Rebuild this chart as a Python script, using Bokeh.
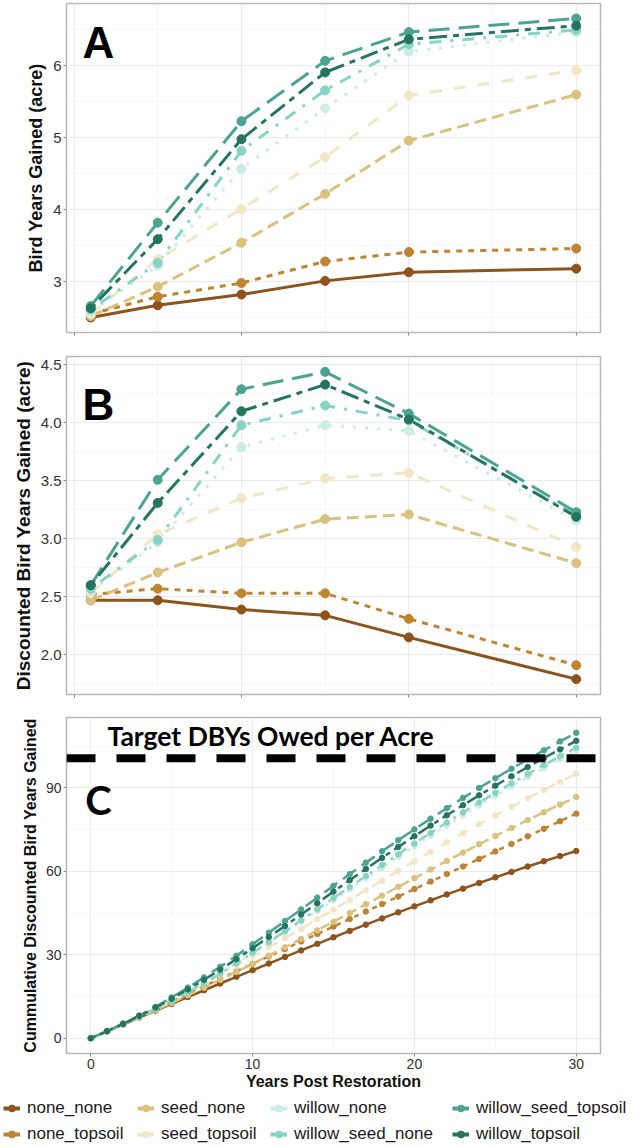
import math
from bokeh.plotting import figure
from bokeh.models import Range1d, FixedTicker, Label, Span, Legend, LegendItem
from bokeh.layouts import column
from bokeh.embed import file_html
from bokeh.resources import INLINE

# ---------------- data ----------------
series = ["none_none", "none_topsoil", "seed_none", "seed_topsoil",
          "willow_none", "willow_seed_none", "willow_seed_topsoil", "willow_topsoil"]
colors = ["#8E531A", "#C0832F", "#DCC17E", "#F3E6C4",
          "#CBEDE6", "#86D4C4", "#4BA393", "#247560"]

years_ab = [1, 5, 10, 15, 20, 30]
years_c = list(range(31))

# Panel A: Bird Years Gained (acre)
a_none_none = [2.50, 2.67, 2.82, 3.01, 3.13, 3.18]
a_none_topsoil = [2.55, 2.79, 2.98, 3.28, 3.41, 3.46]
a_seed_none = [2.52, 2.93, 3.54, 4.22, 4.96, 5.60]
a_seed_topsoil = [2.55, 3.31, 4.01, 4.73, 5.59, 5.94]
a_willow_none = [2.58, 3.22, 4.57, 5.41, 6.20, 6.47]
a_willow_seed_none = [2.61, 3.26, 4.82, 5.66, 6.30, 6.50]
a_willow_seed_topsoil = [2.66, 3.82, 5.23, 6.07, 6.47, 6.66]
a_willow_topsoil = [2.63, 3.59, 4.98, 5.91, 6.37, 6.56]

# Panel B: Discounted Bird Years Gained (acre)
b_none_none = [2.47, 2.47, 2.39, 2.34, 2.15, 1.79]
b_none_topsoil = [2.52, 2.57, 2.53, 2.53, 2.31, 1.91]
b_seed_none = [2.47, 2.71, 2.97, 3.17, 3.21, 2.79]
b_seed_topsoil = [2.53, 3.04, 3.35, 3.52, 3.57, 2.93]
b_willow_none = [2.55, 2.97, 3.79, 3.98, 3.93, 3.16]
b_willow_seed_none = [2.57, 2.99, 3.98, 4.15, 4.02, 3.20]
b_willow_seed_topsoil = [2.60, 3.51, 4.29, 4.44, 4.08, 3.23]
b_willow_topsoil = [2.60, 3.31, 4.10, 4.33, 4.03, 3.19]

# Panel C: Cumulative Discounted Bird Years Gained (years 0..30)
c_none_none = [0, 2.47, 4.94, 7.41, 9.88, 12.35, 14.80, 17.24, 19.66, 22.07, 24.46,
               26.84, 29.21, 31.57, 33.92, 36.26, 38.56, 40.82, 43.05, 45.24, 47.39,
               49.55, 51.67, 53.75, 55.80, 57.81, 59.78, 61.71, 63.60, 65.45, 67.27]
c_none_topsoil = [0, 2.62, 5.27, 7.94, 10.62, 13.31, 16.00, 18.69, 21.37, 24.05, 26.72,
                  29.40, 32.08, 34.77, 37.45, 40.14, 42.83, 45.52, 48.21, 50.90, 53.60,
                  56.30, 59.00, 61.71, 64.42, 67.13, 69.84, 72.55, 75.26, 77.98, 80.70]
c_seed_none = [0, 2.42, 4.90, 7.44, 10.04, 12.69, 15.40, 18.15, 20.96, 23.82, 26.73,
               29.68, 32.67, 35.70, 38.77, 41.88, 44.99, 48.12, 51.24, 54.38, 57.53,
               60.63, 63.70, 66.72, 69.70, 72.64, 75.54, 78.40, 81.21, 83.99, 86.72]
c_seed_topsoil = [0, 2.47, 5.07, 7.80, 10.64, 13.61, 16.64, 19.73, 22.88, 26.09, 29.37,
                  32.67, 36.01, 39.38, 42.79, 46.23, 49.68, 53.14, 56.61, 60.09, 63.57,
                  67.00, 70.36, 73.67, 76.90, 80.07, 83.19, 86.24, 89.23, 92.15, 95.01]
c_willow_none = [0, 2.50, 5.11, 7.81, 10.62, 13.53, 16.60, 19.84, 23.23, 26.78, 30.50,
                 34.25, 38.04, 41.87, 45.73, 49.63, 53.52, 57.40, 61.27, 65.13, 68.98,
                 72.76, 76.46, 80.09, 83.63, 87.11, 90.51, 93.84, 97.08, 100.25, 103.35]
c_willow_seed_none = [0, 2.48, 5.06, 7.74, 10.53, 13.41, 16.48, 19.75, 23.20, 26.85, 30.68,
                      34.55, 38.45, 42.39, 46.36, 50.36, 54.33, 58.28, 62.21, 66.11, 69.99,
                      73.78, 77.51, 81.14, 84.70, 88.18, 91.58, 94.91, 98.15, 101.31, 104.39]
c_willow_seed_topsoil = [0, 2.50, 5.21, 8.15, 11.30, 14.67, 18.19, 21.86, 25.68, 29.64, 33.76,
                         37.91, 42.09, 46.29, 50.52, 54.79, 58.98, 63.11, 67.16, 71.15, 75.06,
                         78.90, 82.66, 86.33, 89.92, 93.44, 96.86, 100.21, 103.48, 106.67, 109.77]
c_willow_topsoil = [0, 2.50, 5.16, 8.01, 11.01, 14.19, 17.52, 21.00, 24.63, 28.42, 32.35,
                    36.34, 40.36, 44.43, 48.54, 52.69, 56.79, 60.84, 64.82, 68.75, 72.61,
                    76.41, 80.11, 83.74, 87.28, 90.75, 94.14, 97.44, 100.67, 103.80, 106.87]

target_dby = 100.6
target_text = "Target DBYs Owed per Acre"

a_vals = [a_none_none, a_none_topsoil, a_seed_none, a_seed_topsoil,
          a_willow_none, a_willow_seed_none, a_willow_seed_topsoil, a_willow_topsoil]
b_vals = [b_none_none, b_none_topsoil, b_seed_none, b_seed_topsoil,
          b_willow_none, b_willow_seed_none, b_willow_seed_topsoil, b_willow_topsoil]
c_vals = [c_none_none, c_none_topsoil, c_seed_none, c_seed_topsoil,
          c_willow_none, c_willow_seed_none, c_willow_seed_topsoil, c_willow_topsoil]

# ---------------- styles ----------------
dash_ab = ["solid", "6 6", "12 6", "12 12", "3 9", "3 9 12 9", "21 9", "6 6 18 6"]
dash_c = ["solid", "5 5", "10 5", "10 10", "3 6", "3 6 10 6", "16 7", "5 5 14 5"]
FONT = "Liberation Sans"


def expand(lo, hi, f=0.05):
    d = (hi - lo) * f
    return Range1d(lo - d, hi + d)


def make_fig(height, xr, yr, top, bottom, yticks, yminor, xticks, xminor,
             ytitle, title_size, tick_size, show_xlabels=False):
    p = figure(width=633, height=height, x_range=xr, y_range=yr,
               output_backend="svg", toolbar_location=None,
               min_border_left=66, min_border_right=33,
               min_border_top=top, min_border_bottom=bottom)
    p.background_fill_color = "white"
    p.border_fill_color = "white"
    p.outline_line_color = "#b8b8b8"
    p.outline_line_width = 1.5
    p.xaxis.ticker = FixedTicker(ticks=xticks, minor_ticks=xminor)
    p.yaxis.ticker = FixedTicker(ticks=yticks, minor_ticks=yminor)
    for g in (p.xgrid, p.ygrid):
        g.grid_line_color = "#ebebeb"
        g.grid_line_width = 1.1
        g.minor_grid_line_color = "#f3f3f3"
        g.minor_grid_line_width = 0.7
    for ax in (p.xaxis, p.yaxis):
        ax.axis_line_color = None
        ax.major_tick_line_color = "#8a8a8a"
        ax.major_tick_out = 3
        ax.major_tick_in = 0
        ax.minor_tick_out = 0
        ax.minor_tick_in = 0
        ax.major_label_text_font = FONT
        ax.major_label_text_font_size = tick_size
        ax.major_label_text_color = "#333333"
        ax.major_label_standoff = 2
        ax.axis_label_text_font = FONT
        ax.axis_label_text_font_style = "bold"
        ax.axis_label_text_color = "#111111"
        ax.axis_label_standoff = 4
    p.yaxis.axis_label = ytitle
    p.yaxis.axis_label_text_font_size = title_size
    if not show_xlabels:
        p.xaxis.major_label_overrides = {t: "" for t in xticks}
        p.xaxis.major_label_text_font_size = "1px"
        p.xaxis.major_label_standoff = 0
    return p


# ---------------- panel A ----------------
pa = make_fig(345, expand(1, 30), expand(2.50, 6.66), 3, 13,
              [3, 4, 5, 6], [2.5, 3.5, 4.5, 5.5, 6.5], [0, 10, 20, 30], [5, 15, 25],
              "Bird Years Gained (acre)", "18px", "15px")
for i, name in enumerate(series):
    pa.line(years_ab, a_vals[i], line_color=colors[i], line_width=3,
            line_dash=dash_ab[i])
for i, name in enumerate(series):
    pa.scatter(years_ab, a_vals[i], size=9, fill_color=colors[i], line_color=colors[i])
pa.add_layout(Label(x=1.46, y=6.33, text="A", text_font=FONT, text_font_style="bold",
                    text_font_size="44px", text_align="center", text_baseline="middle",
                    text_color="black"))

# ---------------- panel B ----------------
pb = make_fig(361, expand(1, 30), expand(1.79, 4.44), 11, 12,
              [2.0, 2.5, 3.0, 3.5, 4.0, 4.5], [1.75, 2.25, 2.75, 3.25, 3.75, 4.25],
              [0, 10, 20, 30], [5, 15, 25],
              "Discounted Bird Years Gained (acre)", "19px", "15px")
pb.yaxis.major_label_overrides = {2.0: "2.0", 2.5: "2.5", 3.0: "3.0", 3.5: "3.5",
                                  4.0: "4.0", 4.5: "4.5"}
for i, name in enumerate(series):
    pb.line(years_ab, b_vals[i], line_color=colors[i], line_width=3,
            line_dash=dash_ab[i])
for i, name in enumerate(series):
    pb.scatter(years_ab, b_vals[i], size=9, fill_color=colors[i], line_color=colors[i])
pb.add_layout(Label(x=1.46, y=4.16, text="B", text_font=FONT, text_font_style="bold",
                    text_font_size="44px", text_align="center", text_baseline="middle",
                    text_color="black"))

# ---------------- panel C ----------------
pc = make_fig(386, expand(0, 30), expand(0, 109.77), 11, 34,
              [0, 30, 60, 90], [15, 45, 75, 105], [0, 10, 20, 30], [5, 15, 25],
              "Cummulative Discounted Bird Years Gained", "16px", "14px",
              show_xlabels=True)
pc.xaxis.axis_label = "Years Post Restoration"
pc.xaxis.axis_label_text_font_size = "16px"
pc.xaxis.axis_label_standoff = 1
for i, name in enumerate(series):
    pc.line(years_c, c_vals[i], line_color=colors[i], line_width=2.5,
            line_dash=dash_c[i])
for i, name in enumerate(series):
    pc.scatter(years_c, c_vals[i], size=5.5, fill_color=colors[i], line_color=colors[i])
pc.add_layout(Span(location=target_dby, dimension="width", line_color="black",
                   line_width=8, line_dash="29 21"))
pc.add_layout(Label(x=1.03, y=108.6, text=target_text, text_font="Lato",
                    text_font_style="bold", text_font_size="26.5px", text_align="left",
                    text_baseline="middle", text_color="black"))
pc.add_layout(Label(x=0.48, y=85.7, text="C", text_font="Lato", text_font_style="bold",
                    text_font_size="40px", text_align="center", text_baseline="middle",
                    text_color="black"))

# ---------------- legend (4 columns x 2 rows) ----------------
pl = figure(width=633, height=55, x_range=Range1d(0, 1), y_range=Range1d(0, 1),
            output_backend="svg", toolbar_location=None,
            x_axis_location=None, y_axis_location=None,
            min_border_left=0, min_border_right=0,
            min_border_top=0, min_border_bottom=0)
pl.frame_align = False
pl.outline_line_color = None
pl.xgrid.visible = False
pl.ygrid.visible = False
nan = float("nan")
renderers = []
for i, name in enumerate(series):
    lr = pl.line([nan, nan], [nan, nan], line_color=colors[i], line_width=4)
    sr = pl.scatter([nan], [nan], size=8, fill_color=colors[i], line_color=colors[i])
    renderers.append([lr, sr])
col_x = [3, 137, 270, 452]
for c in range(4):
    items = [LegendItem(label=series[2 * c + r], renderers=renderers[2 * c + r])
             for r in range(2)]
    leg = Legend(items=items, location=(col_x[c], 3), orientation="vertical",
                 glyph_width=17, glyph_height=20, label_height=20, label_standoff=7,
                 spacing=6, padding=0, margin=0, border_line_color=None,
                 background_fill_alpha=0,
                 label_text_font=FONT, label_text_font_size="17px",
                 label_text_color="#1a1a1a")
    pl.add_layout(leg)

layout = column(pa, pb, pc, pl, spacing=0)
open("out.html", "w").write(file_html(layout, INLINE))
